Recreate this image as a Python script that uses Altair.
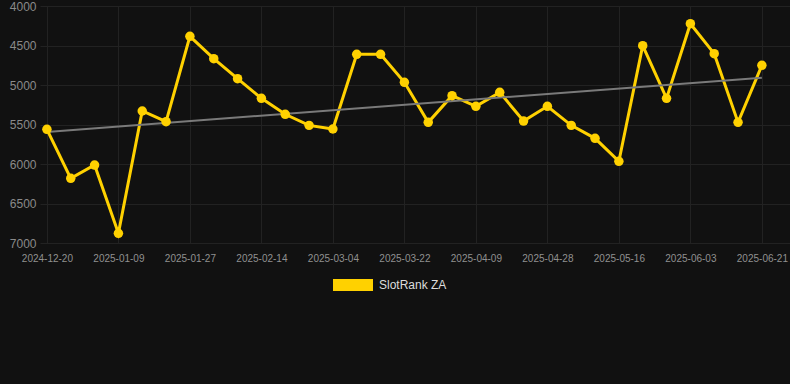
import altair as alt
import pandas as pd

dates = [
    "2024-12-20", "2024-12-26", "2025-01-02", "2025-01-09", "2025-01-15",
    "2025-01-21", "2025-01-27", "2025-02-02", "2025-02-08", "2025-02-14",
    "2025-02-20", "2025-02-26", "2025-03-04", "2025-03-10", "2025-03-16",
    "2025-03-22", "2025-03-28", "2025-04-03", "2025-04-09", "2025-04-15",
    "2025-04-22", "2025-04-28", "2025-05-04", "2025-05-10", "2025-05-16",
    "2025-05-22", "2025-05-28", "2025-06-03", "2025-06-09", "2025-06-15",
    "2025-06-21",
]
ranks = [
    5561, 6181, 6013, 6877, 5329, 5464, 4384, 4667, 4920, 5169,
    5371, 5511, 5557, 4612, 4612, 4966, 5473, 5135, 5270, 5093,
    5456, 5270, 5511, 5675, 5966, 4502, 5169, 4224, 4603, 5473,
    4751,
]
series_name = "SlotRank ZA"
y_ticks = [4000, 4500, 5000, 5500, 6000, 6500, 7000]
label_every = 3

df = pd.DataFrame({
    "idx": list(range(len(dates))),
    "date": dates,
    "rank": ranks,
    "series": [series_name] * len(dates),
})

label_array = "[" + ",".join(f"'{d}'" for d in dates) + "]"

x_enc = alt.X(
    "idx:Q",
    scale=alt.Scale(domain=[-0.29, 31.18], nice=False, zero=False),
    axis=alt.Axis(
        values=list(range(0, len(dates), label_every)),
        labelExpr=f"{label_array}[datum.value]",
        title=None, grid=True, gridColor="#222222", domain=False, ticks=False,
        labelColor="#909090", labelFontSize=10, labelPadding=10,
        labelFont="Liberation Sans", labelOverlap=False, labelFlush=False,
    ),
)
y_enc = alt.Y(
    "rank:Q",
    scale=alt.Scale(domain=[4000, 7000], reverse=True, nice=False, zero=False),
    axis=alt.Axis(
        values=y_ticks, format="d", title=None, grid=True, gridColor="#222222",
        domain=False, ticks=False, labelColor="#8a8a8a", labelFontSize=12,
        labelPadding=4, labelFont="Liberation Sans", labelOverlap=False,
        labelFlush=False,
    ),
)

base = alt.Chart(df)

trend = base.transform_regression("idx", "rank").mark_line(
    color="#7a7a7a", strokeWidth=2
).encode(x=x_enc, y=y_enc)

line = base.mark_line(color="#FFD100", strokeWidth=3).encode(x=x_enc, y=y_enc)

points = base.mark_point(filled=True, size=90, opacity=1).encode(
    x=x_enc,
    y=y_enc,
    color=alt.Color(
        "series:N",
        scale=alt.Scale(domain=[series_name], range=["#FFD100"]),
        legend=alt.Legend(
            orient="none", legendX=293, legendY=259, title=None,
            symbolType="M-1,-0.3H1V0.3H-1Z", symbolSize=1600,
            symbolStrokeWidth=0, symbolOpacity=1,
            labelColor="#dddddd", labelFontSize=12, labelOffset=6,
            labelFont="Liberation Sans", padding=0,
        ),
    ),
)

chart = (
    alt.layer(line, trend, points)
    .properties(
        width=750, height=237,
        autosize=alt.AutoSizeParams(type="none"),
        padding={"left": 40, "top": 6, "right": 0, "bottom": 141},
        background="#111111",
    )
    .configure_view(stroke=None)
)

chart.save("out.html", embed_options={"renderer": "svg", "actions": False})
